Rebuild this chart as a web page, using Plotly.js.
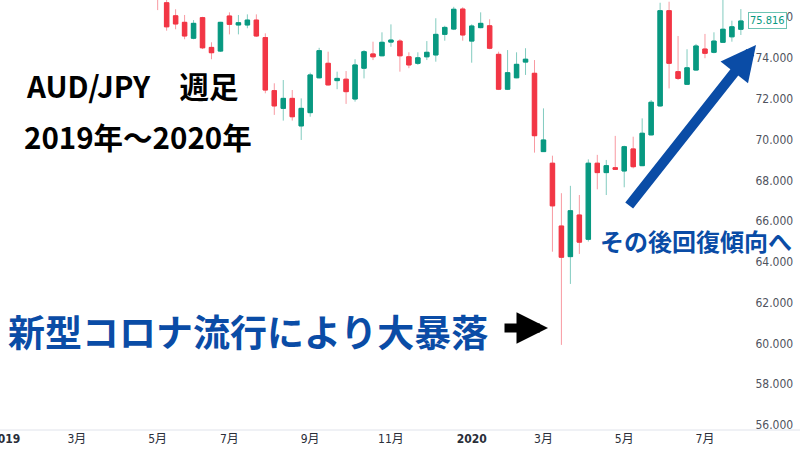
<!DOCTYPE html>
<html>
<head>
<meta charset="utf-8">
<script src="https://cdn.plot.ly/plotly-3.0.1.min.js"></script>
<style>html,body{margin:0;padding:0;background:#fff;}#chart{width:800px;height:450px;}</style>
</head>
<body>
<div id="chart"></div>
<script>
// Weekly bars (Monday dates)
const weeks = [
 '2019-05-06','2019-05-13','2019-05-20','2019-05-27','2019-06-03','2019-06-10','2019-06-17','2019-06-24',
 '2019-07-01','2019-07-08','2019-07-15','2019-07-22','2019-07-29','2019-08-05','2019-08-12','2019-08-19',
 '2019-08-26','2019-09-02','2019-09-09','2019-09-16','2019-09-23','2019-09-30','2019-10-07','2019-10-14',
 '2019-10-21','2019-10-28','2019-11-04','2019-11-11','2019-11-18','2019-11-25','2019-12-02','2019-12-09',
 '2019-12-16','2019-12-23','2019-12-30','2020-01-06','2020-01-13','2020-01-20','2020-01-27','2020-02-03',
 '2020-02-10','2020-02-17','2020-02-24','2020-03-02','2020-03-09','2020-03-16','2020-03-23','2020-03-30',
 '2020-04-06','2020-04-13','2020-04-20','2020-04-27','2020-05-04','2020-05-11','2020-05-18','2020-05-25',
 '2020-06-01','2020-06-08','2020-06-15','2020-06-22','2020-06-29','2020-07-06','2020-07-13','2020-07-20',
 '2020-07-27','2020-08-03'
];
const openP = [
 77.20,76.71,76.07,75.75,74.97,75.98,74.52,74.34,76.06,75.62,75.62,75.86,75.00,72.40,71.53,72.02,
 70.67,71.32,73.03,73.74,72.89,72.96,71.99,73.50,74.20,74.11,74.78,74.83,74.06,73.74,74.06,74.15,
 75.16,75.42,76.40,74.83,75.49,75.58,74.18,72.47,73.03,73.80,73.25,69.41,68.84,65.76,64.26,66.30,
 65.11,68.84,68.38,68.62,68.46,69.54,68.72,70.23,71.65,76.32,73.33,72.71,73.41,74.44,74.28,74.77,
 75.04,75.41
];
const highP = [
 77.50,76.90,76.39,76.11,75.86,76.02,74.77,75.77,76.24,76.11,76.14,76.14,75.21,72.76,72.92,72.43,
 72.02,73.28,74.50,74.31,73.33,73.36,73.94,74.39,74.80,75.26,75.65,74.92,74.28,74.28,74.83,75.95,
 75.58,76.51,76.49,75.65,76.24,75.90,74.31,74.39,74.28,74.48,73.90,71.53,69.21,67.37,67.73,67.28,
 69.03,69.25,69.00,70.18,69.70,70.14,71.04,71.94,76.71,76.76,75.08,74.43,74.69,75.18,75.26,77.00,
 75.83,76.40
];
const lowP = [
 76.35,75.34,75.41,74.92,74.92,74.44,73.94,74.30,75.16,75.16,75.46,75.04,72.27,71.21,70.93,70.93,
 69.98,71.12,73.00,72.65,72.47,71.75,71.86,73.00,73.90,74.09,74.55,73.33,73.50,73.66,73.90,73.82,
 74.85,75.37,74.85,73.77,75.46,74.43,72.43,72.43,73.01,73.17,69.36,69.39,64.50,59.93,62.92,64.39,
 65.00,67.56,67.28,68.51,67.66,68.59,68.70,70.21,71.61,72.51,72.92,72.69,73.38,73.99,74.23,74.75,
 74.80,75.13
];
const closeP = [
 76.90,75.53,75.67,75.08,75.70,74.50,74.26,75.75,75.65,75.73,75.86,75.08,72.43,71.65,72.02,71.12,
 71.53,73.17,74.36,72.68,73.00,72.35,73.66,74.31,74.06,74.77,74.88,74.11,73.66,74.01,74.28,75.16,
 75.50,76.39,75.13,75.57,75.70,74.48,72.47,73.28,73.69,73.94,70.19,69.98,66.75,64.23,66.51,64.97,
 68.84,68.38,68.72,68.54,69.65,68.67,70.31,71.83,76.32,73.74,73.00,73.52,74.59,74.23,74.83,75.41,
 75.53,75.816
];
const lastPrice = 75.816;
const xTickVals = ['2019-01-07','2019-03-04','2019-05-06','2019-07-01','2019-09-02','2019-11-04',
                   '2020-01-06','2020-03-02','2020-05-04','2020-07-06'];
const xTickText = ['<b>2019</b>','3月','5月','7月','9月','11月','<b>2020</b>','3月','5月','7月'];

const bodyHigh = openP.map((o,i)=>Math.max(o,closeP[i]));
const bodyLow = openP.map((o,i)=>Math.min(o,closeP[i]));

const UP = '#089981', DN = '#f23645';
const UPW = 'rgba(8,153,129,0.5)', DNW = 'rgba(242,54,69,0.5)';

const wicks = {
  type:'candlestick', x:weeks, open:openP, high:highP, low:lowP, close:closeP,
  increasing:{line:{color:UPW,width:1}, fillcolor:UPW},
  decreasing:{line:{color:DNW,width:1}, fillcolor:DNW},
  hoverinfo:'skip', showlegend:false
};
const bodies = {
  type:'candlestick', x:weeks, open:openP, high:bodyHigh, low:bodyLow, close:closeP,
  increasing:{line:{color:UP,width:1}, fillcolor:UP},
  decreasing:{line:{color:DN,width:1}, fillcolor:DN},
  hoverinfo:'skip', showlegend:false
};

const axFont = {family:'"Liberation Sans Narrow","DejaVu Sans Condensed","Noto Sans CJK JP",sans-serif', size:12};
const jp = '"Noto Sans CJK JP","Noto Sans",sans-serif';
const BLUE = '#0a4ca6';
const W = 746, H = 430;
const px = v => v / W, py = v => 1 - v / H;

const layout = {
  width:800, height:450,
  margin:{l:0, r:54, t:0, b:20, pad:0},
  paper_bgcolor:'#ffffff', plot_bgcolor:'#ffffff',
  showlegend:false,
  boxmode:'overlay',
  xaxis:{
    type:'date', range:['2019-01-03','2020-08-07'],
    tickmode:'array', tickvals:xTickVals, ticktext:xTickText,
    showgrid:false, zeroline:false, showline:false,
    ticks:'', ticklabeloverflow:'allow', tickfont:Object.assign({color:'#2a2e39'}, axFont),
    rangeslider:{visible:false}, fixedrange:true
  },
  yaxis:{
    side:'right', range:[55.756, 76.845],
    tick0:56, dtick:2, tickformat:'.3f',
    showgrid:false, zeroline:false, showline:false,
    ticks:'outside', ticklen:6, tickcolor:'rgba(0,0,0,0)',
    tickfont:Object.assign({color:'#50535e'}, axFont), fixedrange:true
  },
  shapes:[
    {type:'line', xref:'paper', yref:'paper', x0:0, x1:1.08, y0:0, y1:0, line:{color:'#e0e3eb', width:1}}
  ],
  annotations:[
    {xref:'paper', yref:'y', x:1, y:lastPrice, xanchor:'left', yanchor:'middle', xshift:2,
     text:'75.816', showarrow:false, font:Object.assign({}, axFont, {size:11, color:UP}),
     bgcolor:'#ffffff', bordercolor:'#6cc3b3', borderwidth:1, borderpad:1},
    {xref:'paper', yref:'paper', x:px(24), y:py(85), xanchor:'left', yanchor:'middle',
     text:'AUD/JPY　週足', showarrow:false, font:{family:jp, size:29.5, color:'#000000', weight:700}},
    {xref:'paper', yref:'paper', x:px(22), y:py(136), xanchor:'left', yanchor:'middle',
     text:'2019年～2020年', showarrow:false, font:{family:jp, size:29.5, color:'#000000', weight:700}},
    {xref:'paper', yref:'paper', x:px(6), y:py(331), xanchor:'left', yanchor:'middle',
     text:'新型コロナ流行により大暴落', showarrow:false, font:{family:jp, size:37, color:BLUE, weight:700}},
    {xref:'paper', yref:'paper', x:px(598), y:py(240), xanchor:'left', yanchor:'middle',
     text:'その後回復傾向へ', showarrow:false, font:{family:jp, size:24, color:BLUE, weight:700}},
    {xref:'paper', yref:'paper', x:px(548), y:py(328), ax:-45, ay:0, text:'', showarrow:true,
     arrowhead:2, arrowsize:0.7, arrowwidth:9, arrowcolor:'#000000'},
    {xref:'paper', yref:'paper', x:px(756), y:py(45), ax:-128, ay:162, text:'', showarrow:true,
     arrowhead:2, arrowsize:0.7, arrowwidth:10, arrowcolor:BLUE}
  ]
};

Plotly.newPlot('chart', [wicks, bodies], layout, {staticPlot:true, displayModeBar:false});
</script>
</body>
</html>
